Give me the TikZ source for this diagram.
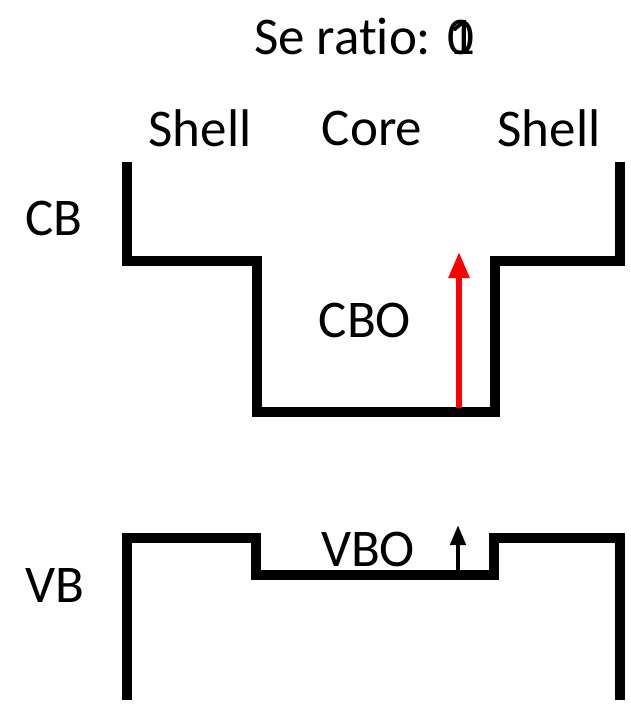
\documentclass[tikz,border=0pt]{standalone}
\usepackage{fontspec}
\setmainfont{Carlito}[Ligatures=NoCommon]
\usetikzlibrary{arrows.meta}
\begin{document}
\begin{tikzpicture}[x=1pt,y=-1pt,
  band/.style={line width=10pt,line join=miter},
  lbl/.style={font=\fontsize{53}{60}\selectfont,inner sep=0pt}]
\useasboundingbox (0,0) rectangle (630,704);
% labels
\node[lbl] (title) at (364,36) {Se ratio: \makebox[0pt][l]{\hspace{1pt}1}0};
\node[lbl] (sl) at (200,128) {Shell};
\node[lbl] (co) at (372,128) {Core};
\node[lbl] (sr) at (549,128) {Shell};
\node[lbl] (cb) at (54,218) {CB};
\node[lbl] (vb) at (55,585) {VB};
\node[lbl] (cbo) at (365,320) {CBO};
\node[lbl] (vbo) at (368,549) {VBO};
% conduction band
\draw[band] (127,162)--(127,261)--(257,261)--(257,412)--(495,412)--(495,261)--(620,261)--(620,162);
% valence band
\draw[band] (127,700)--(127,538)--(256,538)--(256,575)--(494,575)--(494,538)--(620,538)--(620,700);
% offsets
\coordinate (cb0) at (459,408);
\coordinate (cb1) at (459,252);
\coordinate (vb0) at (458,571);
\coordinate (vb1) at (458,525);
\draw[red,line width=5.5pt,-{Triangle[length=26pt,width=20pt]}] (cb0)--(cb1);
\draw[line width=4.5pt,-{Triangle[length=20pt,width=15pt]}] (vb0)--(vb1);
\end{tikzpicture}
\end{document}
